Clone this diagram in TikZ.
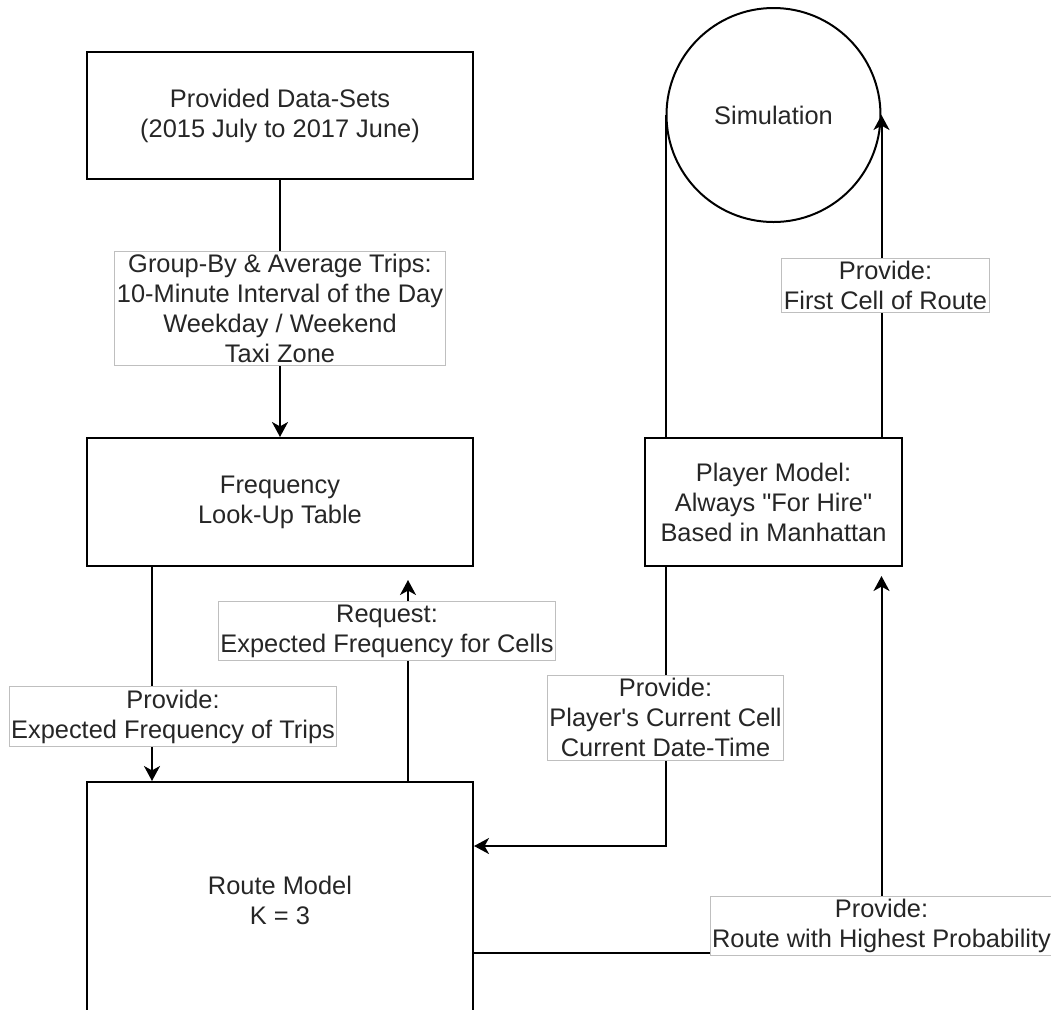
\documentclass[tikz,border=0pt]{standalone}
\usepackage{fontspec}
\setmainfont{Liberation Sans}
\usetikzlibrary{arrows.meta,positioning}
\newcommand{\diafont}{\fontsize{12.7}{15}\selectfont}
\tikzset{
    %Define standard arrow tip
    >={Stealth[length=7.5pt,width=8pt,inset=2.2pt]},
    %Define style for boxes
    block/.style={
           rectangle,
           draw=black, line width=1pt,
           minimum width=193pt,
           minimum height=64pt,
           font=\diafont,
           text=black!85,
           align=center},
    simnode/.style={
           circle,
           draw=black, line width=1pt,
           minimum size=107pt,
           font=\diafont,
           text=black!85},
    % Define style for edge labels
    lbl/.style={
           rectangle,
           draw=black!25, line width=0.5pt,
           fill=white,
           inner xsep=1pt, inner ysep=1.5pt,
           font=\diafont,
           text=black!85,
           align=center},
    % Define arrow style
    pil/.style={
           ->,
           line width=1pt},
    link/.style={
           line width=1pt}
}
\begin{document}
\begin{tikzpicture}[x=0.5pt,y=-0.5pt,node distance=1cm]
\useasboundingbox (0,0) rectangle (1051,1009);
 %nodes
\node[block, minimum height=63.5pt] (data) at (280,115.5) {Provided Data-Sets\\(2015 July to 2017 June)};
\node[block, below=128.5pt of data] (freq) {Frequency\\Look-Up Table};
\node[block, below=107pt of freq, minimum height=118pt] (route) {Route Model\\K = 3};
\node[block, right=85pt of freq, minimum width=128.5pt] (player) {Player Model:\\Always \textquotedbl For Hire\textquotedbl\\Based in Manhattan};
\node[simnode, above=107pt of player] (sim) {Simulation};
 %connectors
\draw[pil] (data) -- node[lbl] {Group-By \& Average Trips:\\10-Minute Interval of the Day\\Weekday / Weekend\\Taxi Zone} (freq);
\draw[pil] ([xshift=-64pt]freq.south) -- node[lbl, pos=0.70, xshift=10.5pt] {Provide:\\Expected Frequency of Trips} ([xshift=-64pt]route.north);
\draw[pil, shorten >=6.5pt] ([xshift=64pt]route.north) -- node[lbl, pos=0.70, xshift=-10.5pt] {Request:\\Expected Frequency for Cells} ([xshift=64pt]freq.south);
\draw[link] (sim.west) -- (sim.west |- player.north);
\draw[pil] (sim.west |- player.south) |- node[lbl, pos=0.27] {Provide:\\Player\textquotesingle s Current Cell\\Current Date-Time} ([yshift=27pt]route.east);
\draw[pil] (sim.east |- player.north) -- node[lbl, pos=0.47, xshift=2pt] {Provide:\\First Cell of Route} (sim.east);
\draw[pil, shorten >=4.5pt] ([yshift=-26.5pt]route.east) -| node[lbl, pos=0.535] {Provide:\\Route with Highest Probability} (sim.east |- player.south);
\end{tikzpicture}
\end{document}
